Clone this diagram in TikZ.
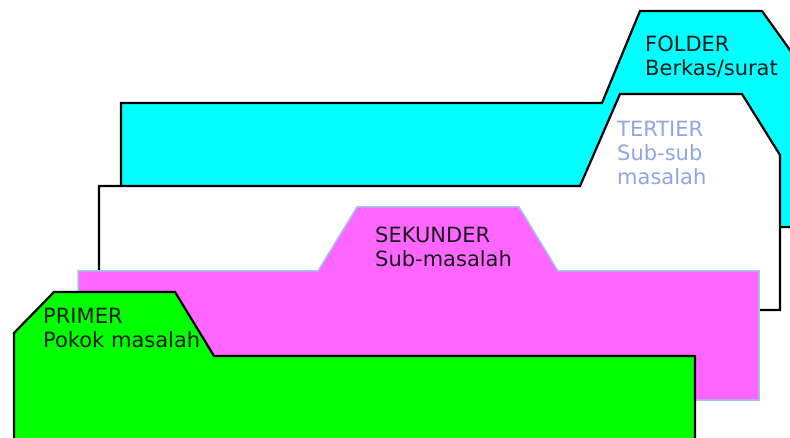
\documentclass[tikz,border=0pt]{standalone}
\usepackage{fontspec}
\setmainfont{DejaVu Sans}
\definecolor{cyanf}{HTML}{00FFFF}
\definecolor{pinkf}{HTML}{FF66FF}
\definecolor{greenf}{HTML}{00FF00}
\definecolor{tertxt}{HTML}{8FA6E0}
\definecolor{pinkline}{HTML}{9CC8E8}
\definecolor{txtdark}{HTML}{1A1A1A}
\tikzset{
  folderline/.style={draw=black,line width=2.2pt,line join=miter},
  lbl/.style={anchor=base west,inner sep=0pt,text=txtdark,font=\fontsize{21}{24}\selectfont},
}
\begin{document}
\begin{tikzpicture}[x=1pt,y=-1pt]
\useasboundingbox (0,0) rectangle (790,438);
\clip (0,0) rectangle (790,438);
% FOLDER (cyan)
\filldraw[folderline,fill=cyanf] (121,227) -- (121,103) -- (602,103) -- (640,11) -- (762,11) -- (810,78) -- (810,227) -- cycle;
% TERTIER (white)
\filldraw[folderline,fill=white] (99,310) -- (99,186) -- (580,186) -- (620,94) -- (742,94) -- (780,155) -- (780,310) -- cycle;
% SEKUNDER (pink)
\filldraw[draw=pinkline,line width=1.5pt,fill=pinkf] (78,400) -- (78,271) -- (318,271) -- (357,207) -- (519,207) -- (558,271) -- (759,271) -- (759,400) -- cycle;
% PRIMER (green)
\filldraw[folderline,fill=greenf] (14,460) -- (14,333) -- (54,292) -- (175,292) -- (214,356) -- (695,356) -- (695,460) -- cycle;
% labels
\node[lbl] (folder) at (645,52) {FOLDER};
\node[lbl] (berkas) at (645,75.5) {Berkas/surat};
\node[lbl,text=tertxt] (tertier) at (617,137) {TERTIER};
\node[lbl,text=tertxt] (subsub) at (617,161) {Sub-sub};
\node[lbl,text=tertxt] (masalah) at (617,185) {masalah};
\node[lbl] (sekunder) at (375,243) {SEKUNDER};
\node[lbl] (submasalah) at (375,267) {Sub-masalah};
\node[lbl] (primer) at (43,324) {PRIMER};
\node[lbl] (pokok) at (43,348) {Pokok masalah};
\end{tikzpicture}
\end{document}
